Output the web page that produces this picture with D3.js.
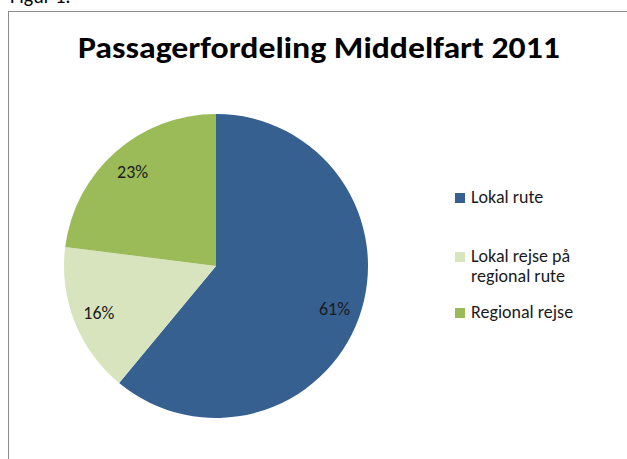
<!DOCTYPE html>
<html><head><meta charset="utf-8">
<script src="https://cdn.jsdelivr.net/npm/d3@7"></script>
<style>body{margin:0;background:#fff;}svg{display:block;}</style>
</head><body>
<svg id="c" width="627" height="459"></svg>
<script>
const categories = ["Lokal rute", "Lokal rejse på regional rute", "Regional rejse"];
const values = [61, 16, 23];
const labels = ["61%", "16%", "23%"];
const legendLines = [["Lokal rute"], ["Lokal rejse på", "regional rute"], ["Regional rejse"]];
const colors = ["#36608f", "#d8e4bd", "#9bbb59"];

const svg = d3.select("#c");
const font = "Carlito, 'Open Sans', 'Liberation Sans', sans-serif";

// partial heading above frame (cut off in the reference too)
svg.append("text").attr("x", 10).attr("y", 3).attr("font-family", font)
  .attr("font-size", 20).attr("fill", "#000").text("Figur 1:");

// frame
svg.append("rect").attr("x", 8.5).attr("y", 11.5).attr("width", 640).attr("height", 470)
  .attr("fill", "#fff").attr("stroke", "#8c8c8c").attr("stroke-width", 1);

// title
svg.append("text").attr("x", 319).attr("y", 58).attr("text-anchor", "middle")
  .attr("font-family", font).attr("font-weight", "bold").attr("font-size", 31)
  .attr("fill", "#000").attr("textLength", 482).attr("lengthAdjust", "spacingAndGlyphs")
  .text("Passagerfordeling Middelfart 2011");

const cx = 216, cy = 266, r = 152;
const pie = d3.pie().sort(null).value(d => d);
const arcs = pie(values);
const arc = d3.arc().innerRadius(0).outerRadius(r);
const labelArc = d3.arc().innerRadius(126).outerRadius(126);
const g = svg.append("g").attr("transform", `translate(${cx},${cy})`);
g.selectAll("path").data(arcs).join("path")
  .attr("d", arc).attr("fill", (d, i) => colors[i]);
g.selectAll("text").data(arcs).join("text")
  .attr("transform", d => `translate(${labelArc.centroid(d)})`)
  .attr("text-anchor", "middle").attr("dy", "0.35em")
  .attr("font-family", font).attr("font-size", 18).attr("fill", "#1a1a1a")
  .text((d, i) => labels[i]);

// legend
const legendY = [193, 252, 308];
const lg = svg.append("g");
categories.forEach((c, i) => {
  lg.append("rect").attr("x", 455).attr("y", legendY[i]).attr("width", 10).attr("height", 10)
    .attr("fill", colors[i]);
  const t = lg.append("text").attr("x", 471).attr("y", legendY[i] + 10)
    .attr("font-family", font).attr("font-size", 18).attr("fill", "#1a1a1a");
  legendLines[i].forEach((line, j) => {
    t.append("tspan").attr("x", 471).attr("dy", j === 0 ? 0 : 20).text(line);
  });
});
</script>
</body></html>
